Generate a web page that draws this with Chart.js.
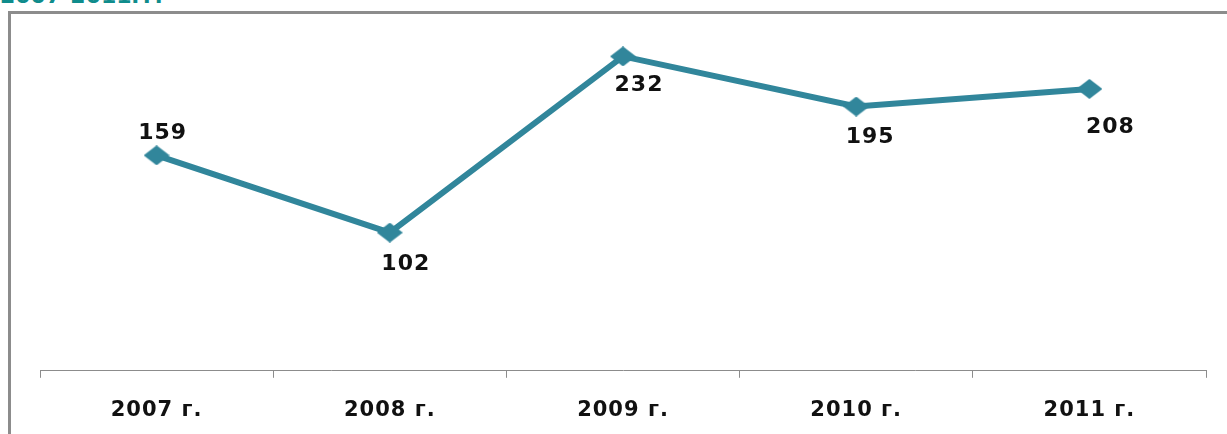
<!DOCTYPE html>
<html>
<head>
<meta charset="utf-8">
<script src="https://cdn.jsdelivr.net/npm/chart.js@4.4.1/dist/chart.umd.min.js"></script>
<style>
  html, body { margin: 0; padding: 0; background: #fff; overflow: hidden; }
  #wrap { position: relative; width: 1227px; height: 434px; overflow: hidden; }
  #title {
    position: absolute; left: 0; top: -17px;
    font: bold 22px 'DejaVu Sans', sans-serif; color: #0f8c8c;
    white-space: nowrap;
  }
  #frame {
    position: absolute; left: 8px; top: 11px; width: 1240px; height: 440px;
    border-left: 3px solid #8c8c8c; border-top: 3px solid #8c8c8c;
  }
  canvas { position: absolute; left: 0; top: 0; }
</style>
</head>
<body>
<div id="wrap">
  <div id="title">2007-2011гг.</div>
  <div id="frame"></div>
  <canvas id="myChartline" width="1227" height="450"></canvas>
</div>
<script>
const years = ['2007 г.', '2008 г.', '2009 г.', '2010 г.', '2011 г.'];
const values = [159, 102, 232, 195, 208];

// where each value label sits relative to its point
const labelShift = [[6, -22], [16, 32], [16, 29], [14, 31], [21, 38]];

// flattened diamond marker like the original
const marker = document.createElement('canvas');
marker.width = 26;
marker.height = 20;
const mctx = marker.getContext('2d');
mctx.fillStyle = '#31869b';
mctx.beginPath();
mctx.moveTo(13, 0);
mctx.lineTo(26, 10);
mctx.lineTo(13, 20);
mctx.lineTo(0, 10);
mctx.closePath();
mctx.fill();

const spacing = {
    id: 'spacing',
    beforeDraw(chart) { chart.ctx.letterSpacing = '1px'; },
    afterDraw(chart) { chart.ctx.letterSpacing = '0px'; }
};

const valueLabels = {
    id: 'valueLabels',
    afterDatasetsDraw(chart) {
        const ctx = chart.ctx;
        const meta = chart.getDatasetMeta(0);
        ctx.save();
        ctx.letterSpacing = '1px';
        ctx.font = "bold 22px 'DejaVu Sans', sans-serif";
        ctx.fillStyle = '#111';
        ctx.textAlign = 'center';
        ctx.textBaseline = 'middle';
        meta.data.forEach((pt, i) => {
            const s = labelShift[i];
            ctx.fillText(values[i], pt.x + s[0], pt.y + s[1]);
        });
        ctx.restore();
    }
};

const ctx = document.getElementById('myChartline').getContext('2d');

new Chart(ctx, {
    type: 'line',
    data: {
        labels: years,
        datasets: [{
            data: values,
            borderColor: '#31869b',
            backgroundColor: '#31869b',
            borderWidth: 6,
            pointStyle: marker,
            pointRadius: 10,
            pointHoverRadius: 10,
            tension: 0
        }]
    },
    options: {
        responsive: false,
        animation: false,
        layout: { padding: { left: 40, right: 21, top: 32, bottom: 7 } },
        plugins: {
            legend: { display: false },
            tooltip: { enabled: false }
        },
        scales: {
            x: {
                offset: true,
                grid: {
                    offset: true,
                    drawOnChartArea: false,
                    drawTicks: true,
                    tickLength: 7,
                    color: '#8c8c8c'
                },
                border: { display: true, color: '#8c8c8c', width: 1 },
                ticks: {
                    padding: 20,
                    color: '#111',
                    font: { family: "'DejaVu Sans', sans-serif", size: 21, weight: 'bold' }
                }
            },
            y: {
                display: false,
                min: 0,
                max: 250
            }
        }
    },
    plugins: [spacing, valueLabels]
});
</script>
</body>
</html>
